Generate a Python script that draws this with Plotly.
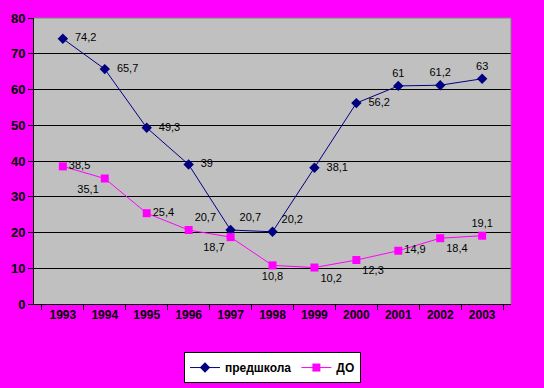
import plotly.graph_objects as go

years = ["1993", "1994", "1995", "1996", "1997", "1998", "1999", "2000", "2001", "2002", "2003"]
preschool = [74.2, 65.7, 49.3, 39, 20.7, 20.2, 38.1, 56.2, 61, 61.2, 63]
do_vals = [38.5, 35.1, 25.4, 20.7, 18.7, 10.8, 10.2, 12.3, 14.9, 18.4, 19.1]
y_ticks = [0, 10, 20, 30, 40, 50, 60, 70, 80]

def fmt(v):
    return ("%g" % v).replace(".", ",")

pos_blue = ["middle right", "middle right", "middle right", "middle right", "top right", "top right",
            "middle right", "middle right", "top center", "top center", "top center"]
pos_mag = ["middle right", "bottom left", "middle right", "top right", "bottom left", "bottom center",
           "bottom right", "bottom right", "middle right", "bottom right", "top center"]
blue_pad = ["  ", "  ", "  ", "  ", " ", " ", "  ", "  ", "", "", ""]

fig = go.Figure()
fig.add_trace(go.Scatter(
    x=years, y=preschool, name="предшкола", mode="lines+markers+text",
    line=dict(color="#000080", width=1),
    marker=dict(symbol="diamond", size=8, color="#000080"),
    text=[p + fmt(v) for p, v in zip(blue_pad, preschool)], textposition=pos_blue,
    textfont=dict(family="Liberation Sans, Arial", size=11, color="#000000"),
    cliponaxis=False,
))
fig.add_trace(go.Scatter(
    x=years, y=do_vals, name="ДО", mode="lines+markers+text",
    line=dict(color="#FF00FF", width=1),
    marker=dict(symbol="square", size=8, color="#FF00FF"),
    text=[fmt(v) for v in do_vals], textposition=pos_mag,
    textfont=dict(family="Liberation Sans, Arial", size=11, color="#000000"),
    cliponaxis=False,
))

fig.update_layout(
    width=544, height=388,
    paper_bgcolor="#FF00FF", plot_bgcolor="#C0C0C0",
    margin=dict(l=34, r=33, t=18, b=84, autoexpand=False),
    font=dict(family="Liberation Sans, Arial", size=12, color="#000000"),
    showlegend=True,
    legend=dict(orientation="h", x=0.5, xanchor="center", y=-0.168, yanchor="top",
                bgcolor="#FFFFFF", bordercolor="#000000", borderwidth=1,
                font=dict(family="Liberation Sans, Arial", size=12, color="#000000", weight="bold"),
                itemwidth=30, tracegroupgap=0),
)
fig.update_xaxes(
    type="category", tickson="boundaries", ticks="outside", ticklen=5, tickcolor="#000000",
    showline=True, linecolor="#000000", linewidth=1, mirror=False, showgrid=False,
    tickfont=dict(size=12, weight="bold"), automargin=False,
)
fig.update_yaxes(
    range=[0, 80], tickvals=y_ticks, ticks="outside", ticklen=5, tickcolor="#000000",
    showline=True, linecolor="#000000", linewidth=1, showgrid=True, gridcolor="#000000", gridwidth=1,
    tickfont=dict(size=13, weight="bold"), zeroline=False, automargin=False,
)
fig.add_shape(type="line", xref="paper", yref="paper", x0=0, y0=1, x1=1, y1=1,
              line=dict(color="#808080", width=1), layer="above")
fig.add_shape(type="line", xref="paper", yref="paper", x0=1, y0=0, x1=1, y1=1,
              line=dict(color="#808080", width=1), layer="above")

fig.write_html("out.html", config={"displayModeBar": False},
               post_script="document.body.style.margin='0';document.body.style.overflow='hidden';")
